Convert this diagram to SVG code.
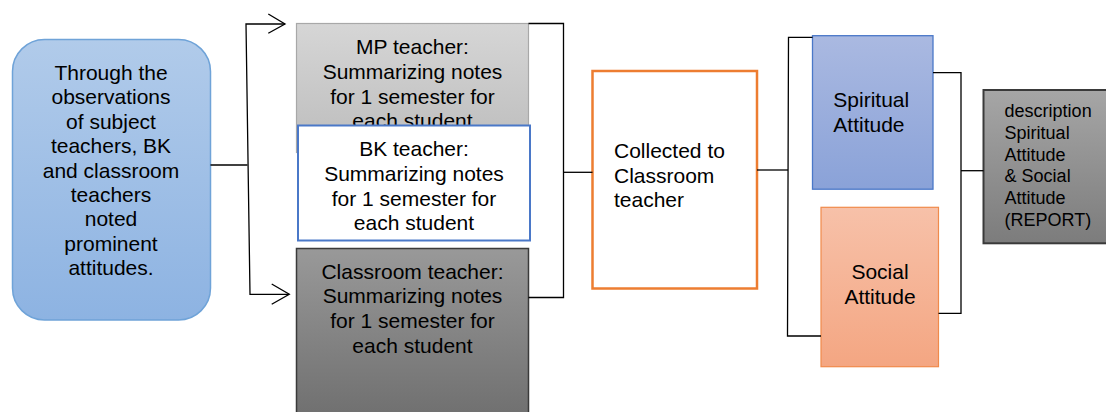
<svg xmlns="http://www.w3.org/2000/svg" width="1106" height="412" viewBox="0 0 1106 412">
  <defs>
    <linearGradient id="gBlue" x1="0" y1="0" x2="0" y2="1">
      <stop offset="0" stop-color="#b1cbea"/>
      <stop offset="1" stop-color="#8db3e2"/>
    </linearGradient>
    <linearGradient id="gLight" x1="0" y1="0" x2="0" y2="1">
      <stop offset="0" stop-color="#d6d6d6"/>
      <stop offset="1" stop-color="#bcbcbc"/>
    </linearGradient>
    <linearGradient id="gDark" x1="0" y1="0" x2="0" y2="1">
      <stop offset="0" stop-color="#999999"/>
      <stop offset="1" stop-color="#6e6e6e"/>
    </linearGradient>
    <linearGradient id="gSpirit" x1="0" y1="0" x2="0" y2="1">
      <stop offset="0" stop-color="#aab9e1"/>
      <stop offset="1" stop-color="#8aa2d8"/>
    </linearGradient>
    <linearGradient id="gSocial" x1="0" y1="0" x2="0" y2="1">
      <stop offset="0" stop-color="#f7c1a9"/>
      <stop offset="1" stop-color="#f4a682"/>
    </linearGradient>
    <linearGradient id="gReport" x1="0" y1="0" x2="0" y2="1">
      <stop offset="0" stop-color="#a6a6a6"/>
      <stop offset="1" stop-color="#7c7c7c"/>
    </linearGradient>
  </defs>
  <style>
    text { font-family: "Liberation Sans", Arial, sans-serif; font-size: 21px; fill: #000; }
    .c { text-anchor: middle; }
    .small { font-size: 18px; }
    .wire { fill: none; stroke: #000; stroke-width: 1.3; }
  </style>

  <rect width="1106" height="412" fill="#fff"/>

  <!-- source node -->
  <g id="observations">
    <rect x="12.5" y="39.5" width="198" height="280.5" rx="32" fill="url(#gBlue)" stroke="#6fa3d8" stroke-width="1.5"/>
    <text class="c" x="111" y="80">Through the</text>
    <text class="c" x="111" y="104.4">observations</text>
    <text class="c" x="111" y="128.8">of subject</text>
    <text class="c" x="111" y="153.2">teachers, BK</text>
    <text class="c" x="111" y="177.6">and classroom</text>
    <text class="c" x="111" y="202">teachers</text>
    <text class="c" x="111" y="226.4">noted</text>
    <text class="c" x="111" y="250.8">prominent</text>
    <text class="c" x="111" y="275.2">attitudes.</text>
  </g>

  <!-- teacher notes -->
  <g id="mp-teacher">
    <rect x="296.5" y="23.5" width="232" height="129" fill="url(#gLight)" stroke="#a8a8a8" stroke-width="1.2"/>
    <text class="c" x="412.5" y="54.3">MP teacher:</text>
    <text class="c" x="412.5" y="79">Summarizing notes</text>
    <text class="c" x="412.5" y="103.7">for 1 semester for</text>
    <text class="c" x="412.5" y="128.4">each student</text>
  </g>

  <g id="bk-teacher">
    <rect x="298" y="125.5" width="232" height="115" fill="#fff" stroke="#4a78c8" stroke-width="2"/>
    <text class="c" x="414" y="156.3">BK teacher:</text>
    <text class="c" x="414" y="181">Summarizing notes</text>
    <text class="c" x="414" y="205.7">for 1 semester for</text>
    <text class="c" x="414" y="230.2">each student</text>
  </g>

  <g id="classroom-teacher">
    <rect x="296.5" y="248.5" width="232" height="175" fill="url(#gDark)" stroke="#3a3a3a" stroke-width="1.5"/>
    <text class="c" x="412.5" y="278.5">Classroom teacher:</text>
    <text class="c" x="412.5" y="303.2">Summarizing notes</text>
    <text class="c" x="412.5" y="327.9">for 1 semester for</text>
    <text class="c" x="412.5" y="352.6">each student</text>
  </g>

  <!-- collection -->
  <g id="collected">
    <rect x="592.5" y="71" width="164.5" height="217.5" fill="#fff" stroke="#ed7d31" stroke-width="2.5"/>
    <text x="614" y="158.3">Collected to</text>
    <text x="614" y="182.6">Classroom</text>
    <text x="614" y="206.9">teacher</text>
  </g>

  <!-- attitude categories -->
  <g id="spiritual">
    <rect x="812.5" y="35.7" width="120.5" height="153.5" fill="url(#gSpirit)" stroke="#4a78c8" stroke-width="1.3"/>
    <text x="833.3" y="107.3">Spiritual</text>
    <text x="833.3" y="131.7">Attitude</text>
  </g>

  <g id="social">
    <rect x="821" y="207.3" width="117.5" height="159.4" fill="url(#gSocial)" stroke="#f08a4b" stroke-width="1.2"/>
    <text class="c" x="880" y="279.3">Social</text>
    <text class="c" x="880" y="303.6">Attitude</text>
  </g>

  <!-- final report -->
  <g id="report">
    <rect x="983.5" y="90" width="130" height="153.3" fill="url(#gReport)" stroke="#3a3a3a" stroke-width="2"/>
    <text class="small" x="1004.6" y="117.3">description</text>
    <text class="small" x="1004.6" y="138.8">Spiritual</text>
    <text class="small" x="1004.6" y="160.5">Attitude</text>
    <text class="small" x="1004.6" y="182.2">&amp; Social</text>
    <text class="small" x="1004.6" y="203.9">Attitude</text>
    <text class="small" x="1004.6" y="225.6">(REPORT)</text>
  </g>

  <!-- connectors -->
  <g id="connectors" class="wire">
    <!-- source split to teachers -->
    <path d="M210.5 165 H247.5"/>
    <path d="M285 24 H246 L250 294.3 H289"/>
    <path d="M268.3 14 L285 24 L268.3 33.3"/>
    <path d="M271.7 284 L289.3 294.3 L271.7 304.3"/>
    <!-- teachers merge to collection -->
    <path d="M528.5 23.5 H563.5 V297.5 H528.5"/>
    <path d="M563.5 172.3 H592.5"/>
    <!-- collection split to attitudes -->
    <path d="M757 170 H788"/>
    <path d="M812.5 37.3 H788.5 L787.5 336 H821"/>
    <!-- attitudes merge to report -->
    <path d="M933 72.7 H961 V313.3 H938.5"/>
    <path d="M961 170.7 H983.5"/>
  </g>
</svg>
